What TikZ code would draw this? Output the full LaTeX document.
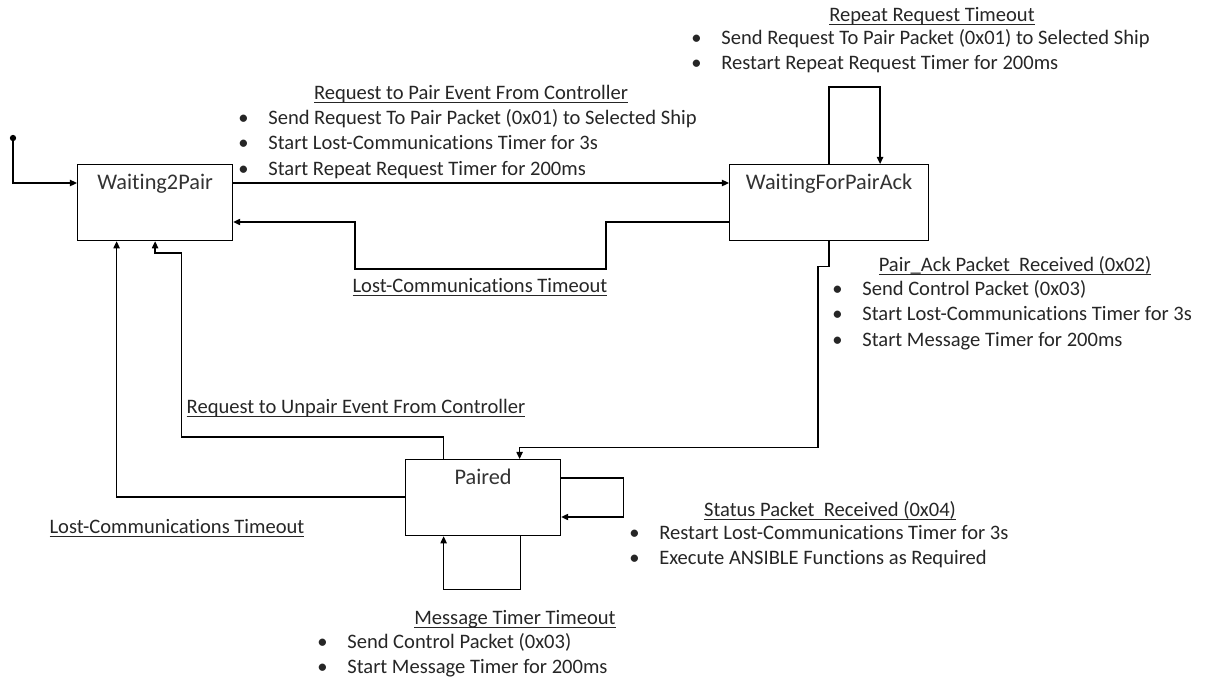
\documentclass[tikz,border=0pt]{standalone}
\usepackage{fontspec}
\setmainfont{Carlito}[Ligatures=NoCommon]
\usetikzlibrary{arrows.meta}

\newsavebox{\ulbox}
\newcommand{\evul}[1]{\sbox{\ulbox}{#1}\rlap{\rule[-2.3pt]{\wd\ulbox}{0.6pt}}\usebox{\ulbox}}
\newcommand{\evfont}{\fontsize{11.7}{14.6}\selectfont}
\newcommand{\boxfont}{\fontsize{12.7}{15}\selectfont}
\newcommand{\evitem}[1]{\makebox[0.6cm][l]{\textbullet}#1}

\begin{document}
\begin{tikzpicture}[x=0.02cm, y=-0.02cm,
  statebox/.style={draw, line width=0.7pt, font=\boxfont, text=black!80, inner sep=0pt,
    minimum width=3.1cm, text height=0.5cm, text depth=1.02cm, anchor=north west},
  trans/.style={line width=0.7pt, -{Triangle[length=4pt,width=3.6pt]}},
  evhead/.style={font=\evfont, text=black!85, inner sep=0pt, anchor=base},
  evlist/.style={font=\evfont, text=black!85, inner sep=0pt, anchor=base west}]

\useasboundingbox (0,0) rectangle (1208,681);

% States
\node[statebox] (w2p) at (77,164) {Waiting2Pair};
\node[statebox, minimum width=3.98cm] (wack) at (729,164) {WaitingForPairAck};
\node[statebox] (pair) at (405,459) {Paired};

% Initial point
\coordinate (start) at (13,138);
\fill (start) circle (1.8pt);
\draw[trans] (start) |- ([yshift=-0.38cm]w2p.north west);

% Transitions
\draw[trans] ([yshift=-0.38cm]w2p.north east) -- ([yshift=-0.38cm]wack.north west);
\draw[trans] ([yshift=-1.16cm]wack.north west) -- ++(-123,0) -- ++(0,47) -- ++(-251,0)
  -- ++(0,-47) -- ([yshift=-1.16cm]w2p.north east);
\draw[trans] (wack.north) -- ++(0,-77) -| ([xshift=1.02cm]wack.north);
\draw[trans] (wack.south) -- ++(0,25) -- ++(-11,0) -- ++(0,181) -| ([xshift=0.73cm]pair.north);
\draw[trans] ([xshift=-0.79cm]pair.north) -- ++(0,-22) -- ++(-262,0) -- ++(0,-184) -| (w2p.south);
\draw[trans] ([yshift=-0.76cm]pair.north west) -| ([xshift=-0.77cm]w2p.south);
\draw[trans] ([yshift=-0.38cm]pair.north east) -- ++(62,0) |- ([yshift=-1.16cm]pair.north east);
\draw[trans] ([xshift=0.75cm]pair.south) -- ++(0,53) -| ([xshift=-0.79cm]pair.south);

% Event labels
\node[evhead] (reqhead) at (471,99) {\evul{Request to Pair Event From Controller}};
\node[evlist] (reqlist) at (238,124) {\begin{tabular}[t]{@{}l@{}}
  \evitem{Send Request To Pair Packet (0x01) to Selected Ship}\\
  \evitem{Start Lost-Communications Timer for 3s}\\
  \evitem{Start Repeat Request Timer for 200ms}
\end{tabular}};

\node[evhead] (rephead) at (932,21) {\evul{Repeat Request Timeout}};
\node[evlist] (replist) at (691,44) {\begin{tabular}[t]{@{}l@{}}
  \evitem{Send Request To Pair Packet (0x01) to Selected Ship}\\
  \evitem{Restart Repeat Request Timer for 200ms}
\end{tabular}};

\node[evhead] (lostup) at (480,292) {\evul{Lost-Communications Timeout}};

\node[evhead] (ackhead) at (1015,271) {\evul{Pair\_Ack Packet\ \ Received (0x02)}};
\node[evlist] (acklist) at (832,295) {\begin{tabular}[t]{@{}l@{}}
  \evitem{Send Control Packet (0x03)}\\
  \evitem{Start Lost-Communications Timer for 3s}\\
  \evitem{Start Message Timer for 200ms}
\end{tabular}};

\node[evhead] (unpairhead) at (356,413) {\evul{Request to Unpair Event From Controller}};
\node[evhead] (lostlow) at (177,533) {\evul{Lost-Communications Timeout}};

\node[evhead] (stathead) at (830,516) {\evul{Status Packet\ \ Received (0x04)}};
\node[evlist] (statlist) at (629,539) {\begin{tabular}[t]{@{}l@{}}
  \evitem{Restart Lost-Communications Timer for 3s}\\
  \evitem{Execute ANSIBLE Functions as Required}
\end{tabular}};

\node[evhead] (msghead) at (515,624) {\evul{Message Timer Timeout}};
\node[evlist] (msglist) at (317,648) {\begin{tabular}[t]{@{}l@{}}
  \evitem{Send Control Packet (0x03)}\\
  \evitem{Start Message Timer for 200ms}
\end{tabular}};

\end{tikzpicture}
\end{document}
